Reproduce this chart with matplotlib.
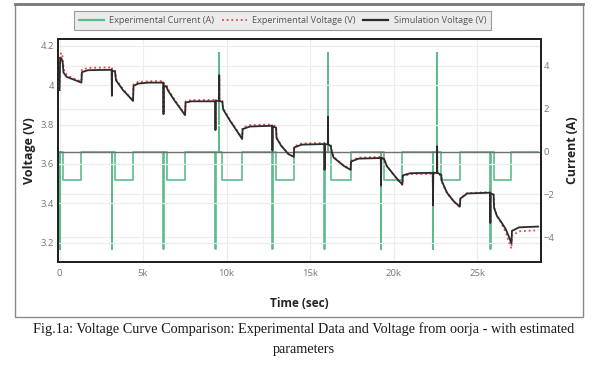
import matplotlib
matplotlib.use("Agg")
import matplotlib.pyplot as plt
from matplotlib.lines import Line2D
from matplotlib.patches import Rectangle

# ---------------- data ----------------
cur_time = [0, 30, 50, 190, 1310,
            3125, 3145, 3320, 4400,
            6220, 6240, 6420, 7515,
            9330, 9350, 9550, 9570, 9750, 10930,
            12740, 12760, 12960, 14020,
            15860, 15880, 16060, 16080, 16240, 17420,
            19240, 19260, 19430, 20520,
            22350, 22370, 22590, 22610, 22850, 23960,
            25780, 25800, 25980, 27050, 28650]
cur_amp = [0, -4.55, 0, -1.35, 0,
           -4.55, 0, -1.35, 0,
           -4.55, 0, -1.35, 0,
           -4.55, 0, 4.6, 0, -1.35, 0,
           -4.55, 0, -1.35, 0,
           -4.55, 0, 4.6, 0, -1.35, 0,
           -4.55, 0, -1.35, 0,
           -4.55, 0, 4.6, 0, -1.35, 0,
           -4.55, 0, -1.35, 0, 0]

sim_time = [0, 40, 120, 190, 240, 430, 800, 1310, 1340, 1700, 3120,
            3135, 3150, 3320, 3380, 3800, 4100, 4400, 4430, 4700, 5300, 6210,
            6225, 6240, 6420, 6480, 6900, 7200, 7515, 7545, 7900, 9320,
            9335, 9350, 9550, 9560, 9570, 9750, 9790, 10200, 10600, 10930, 10960, 11400, 12730,
            12745, 12760, 12960, 12990, 13260, 13700, 14020, 14050, 14500, 15850,
            15865, 15880, 16060, 16070, 16080, 16240, 16280, 16400, 17000, 17420, 17450, 17900, 19230,
            19245, 19260, 19430, 19590, 19990, 20250, 20520, 20550, 21000, 22340,
            22355, 22370, 22590, 22600, 22610, 22850, 22880, 23190, 23600, 23960, 23990, 24400, 25770,
            25785, 25800, 25980, 26010, 26180, 26400, 26700, 26900, 27050, 27080, 27500, 28650]
sim_volt = [3.975, 4.14, 4.135, 4.115, 4.064, 4.042, 4.03, 4.013, 4.066, 4.076, 4.078,
            3.946, 4.072, 4.07, 4.025, 3.975, 3.948, 3.92, 3.996, 4.008, 4.013, 4.013,
            3.853, 4.0, 3.99, 3.975, 3.92, 3.885, 3.848, 3.912, 3.918, 3.918,
            3.772, 3.92, 3.92, 4.05, 3.92, 3.915, 3.878, 3.82, 3.77, 3.727, 3.777, 3.79, 3.794,
            3.667, 3.79, 3.785, 3.732, 3.693, 3.65, 3.636, 3.684, 3.698, 3.701,
            3.57, 3.70, 3.70, 3.84, 3.70, 3.69, 3.667, 3.633, 3.591, 3.57, 3.612, 3.627, 3.63,
            3.49, 3.63, 3.625, 3.589, 3.547, 3.52, 3.496, 3.542, 3.553, 3.555,
            3.39, 3.555, 3.555, 3.69, 3.555, 3.545, 3.513, 3.454, 3.41, 3.383, 3.424, 3.45, 3.454,
            3.30, 3.45, 3.445, 3.378, 3.336, 3.31, 3.27, 3.23, 3.196, 3.26, 3.278, 3.282]

exp_time = [0, 40, 110, 190, 250, 430, 800, 1310, 1340, 1700, 3120,
            3135, 3150, 3320, 3380, 3800, 4100, 4400, 4430, 4700, 5300, 6210,
            6225, 6240, 6420, 6480, 6900, 7200, 7515, 7545, 7900, 9320,
            9335, 9350, 9550, 9560, 9570, 9750, 9790, 10200, 10600, 10930, 10960, 11400, 12730,
            12745, 12760, 12960, 12990, 13260, 13700, 14020, 14050, 14500, 15850,
            15865, 15880, 16060, 16070, 16080, 16240, 16280, 16400, 17000, 17420, 17450, 17900, 19230,
            19245, 19260, 19430, 19590, 19990, 20250, 20520, 20550, 21000, 22340,
            22355, 22370, 22590, 22600, 22610, 22850, 22880, 23190, 23600, 23960, 23990, 24400, 25770,
            25785, 25800, 25980, 26010, 26180, 26400, 26700, 26900, 27050, 27080, 27500, 28650]
exp_volt = [3.99, 4.15, 4.165, 4.14, 4.08, 4.052, 4.036, 4.018, 4.078, 4.088, 4.09,
            3.95, 4.085, 4.08, 4.03, 3.98, 3.95, 3.922, 4.005, 4.016, 4.02, 4.021,
            3.855, 4.01, 4.0, 3.98, 3.925, 3.888, 3.85, 3.918, 3.924, 3.925,
            3.775, 3.925, 3.925, 4.05, 3.925, 3.92, 3.882, 3.824, 3.772, 3.73, 3.785, 3.797, 3.801,
            3.67, 3.798, 3.79, 3.735, 3.695, 3.652, 3.638, 3.69, 3.704, 3.707,
            3.572, 3.705, 3.705, 3.84, 3.705, 3.695, 3.67, 3.636, 3.593, 3.572, 3.617, 3.632, 3.636,
            3.49, 3.636, 3.628, 3.59, 3.546, 3.518, 3.494, 3.538, 3.548, 3.55,
            3.39, 3.55, 3.55, 3.69, 3.55, 3.54, 3.51, 3.452, 3.408, 3.38, 3.425, 3.452, 3.457,
            3.30, 3.455, 3.448, 3.378, 3.335, 3.305, 3.255, 3.205, 3.17, 3.235, 3.258, 3.263]

x_ticks = [0, 5000, 10000, 15000, 20000, 25000]
x_tick_labels = ["0", "5k", "10k", "15k", "20k", "25k"]
v_ticks = [3.2, 3.4, 3.6, 3.8, 4.0, 4.2]
v_tick_labels = ["3.2", "3.4", "3.6", "3.8", "4", "4.2"]
i_ticks = [-4, -2, 0, 2, 4]
i_tick_labels = ["\u22124", "\u22122", "0", "2", "4"]

series_labels = ["Experimental Current (A)", "Experimental Voltage (V)", "Simulation Voltage (V)"]
caption = ("Fig.1a: Voltage Curve Comparison: Experimental Data and Voltage from oorja - with estimated\n"
           "parameters")

# ---------------- styling ----------------
plt.rcParams['font.family'] = ['Open Sans', 'DejaVu Sans']
GREEN = '#5cbb8a'
RED = '#e8453c'
BLACK = '#2b2b2b'
TICK_C = '#777777'

W, H = 607, 366
fig = plt.figure(figsize=(W / 100, H / 100), dpi=100)

# outer chart frame
fig.patches.append(Rectangle((15.3 / W, 1 - 317 / H), (583.3 - 15.3) / W, (317 - 4) / H,
                             transform=fig.transFigure, fill=False, edgecolor='#8a8a8a', lw=1.0))
fig.lines.append(Line2D([15.3 / W, 583.3 / W], [1 - 4 / H, 1 - 4 / H], transform=fig.transFigure,
                        color='#777777', lw=2.0))

left, right, top, bottom = 58, 540.7, 39.3, 262
ax = fig.add_axes([left / W, 1 - bottom / H, (right - left) / W, (bottom - top) / H])
# current axis is primary (drawn below), voltage axis on top
ax.plot(cur_time, cur_amp, drawstyle='steps-post', color=GREEN, lw=1.2, zorder=2)
ax.axhline(0, color='#707070', lw=1.0, zorder=3)
ax.set_xlim(-90, 28800)
ax.set_ylim(-5.15, 5.23)
ax.set_xticks(x_ticks)
ax.set_xticklabels(x_tick_labels)
ax.grid(True, color='#ececec', lw=0.8, zorder=0)
ax.set_axisbelow(True)

axv = ax.twinx()
# put current scale on the right, voltage scale on the left
ax.yaxis.tick_right()
ax.yaxis.set_label_position('right')
ax.set_yticks(i_ticks)
ax.set_yticklabels(i_tick_labels)
ax.tick_params(axis='both', length=0, labelsize=6.8, labelcolor=TICK_C)
ax.tick_params(axis='x', pad=5)
ax.tick_params(axis='y', pad=2, left=False, labelleft=False, right=True, labelright=True)
ax.set_ylabel("Current (A)", fontsize=8.8, fontweight='bold', color='#222222', labelpad=8.5)
ax.set_xlabel("Time (sec)", fontsize=8.5, fontweight='bold', color='#222222', labelpad=14)

axv.yaxis.tick_left()
axv.yaxis.set_label_position('left')
axv.plot(exp_time, exp_volt, color=RED, lw=1.3, linestyle=(0, (1, 1.6)), zorder=3)
axv.plot(sim_time, sim_volt, color=BLACK, lw=1.3, zorder=4)
axv.set_ylim(3.102, 4.233)
axv.set_yticks(v_ticks)
axv.set_yticklabels(v_tick_labels)
axv.grid(True, axis='y', color='#ececec', lw=0.8, zorder=0)
axv.set_axisbelow(True)
axv.tick_params(axis='y', length=0, labelsize=6.8, labelcolor=TICK_C, pad=3,
                left=True, labelleft=True, right=False, labelright=False)
axv.set_ylabel("Voltage (V)", fontsize=9, fontweight='bold', color='#222222', labelpad=3)

for a in (ax, axv):
    for s in a.spines.values():
        s.set_color('#222222')
        s.set_linewidth(1.4)

# legend
handles = [Line2D([], [], color=GREEN, lw=1.6),
           Line2D([], [], color=RED, lw=1.3, linestyle=(0, (1, 1.6))),
           Line2D([], [], color=BLACK, lw=1.6)]
leg = fig.legend(handles, series_labels, loc='center', bbox_to_anchor=(282.5 / W, 1 - 20.4 / H),
                 ncol=3, frameon=True, fancybox=False, fontsize=6.6, handlelength=2.7,
                 handletextpad=0.6, columnspacing=0.85, borderpad=0.55, framealpha=1)
leg.get_frame().set_facecolor('#ebebeb')
leg.get_frame().set_edgecolor('#9a9a9a')
leg.get_frame().set_linewidth(0.8)
for t in leg.get_texts():
    t.set_color('#555555')

fig.text(304 / W, 1 - 339 / H, caption, ha='center', va='center', fontsize=10.3,
         family=['Liberation Serif', 'DejaVu Serif'], color='#1a1a1a', linespacing=1.7)

fig.savefig("out.png", dpi=100)
